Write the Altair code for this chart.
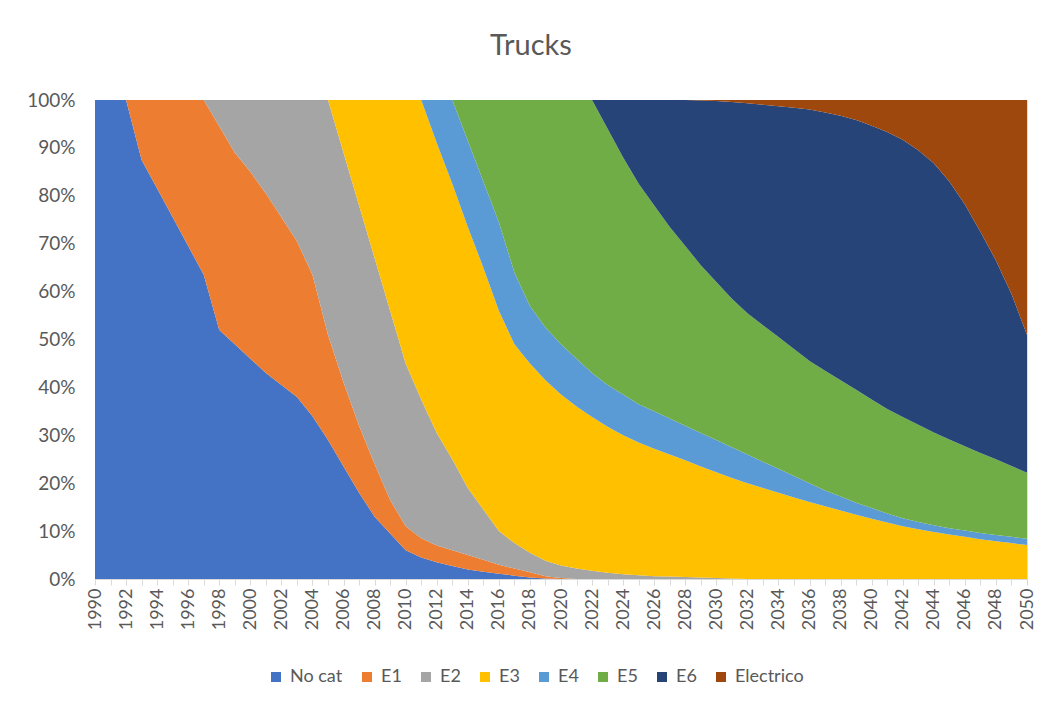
import altair as alt
import pandas as pd

years = list(range(1990, 2051))
categories = ["No cat", "E1", "E2", "E3", "E4", "E5", "E6", "Electrico"]
colors = ["#4472C4", "#ED7D31", "#A5A5A5", "#FFC000", "#5B9BD5", "#70AD47", "#264478", "#9E480E"]

# shares (%) per year, 1990..2050
no_cat = [100, 100, 100, 87.5, 81.5, 75.5, 69.5, 63.5, 52, 49,
          46, 43, 40.5, 38, 34, 29, 23.5, 18, 13, 9.5,
          6, 4.5, 3.5, 2.7, 2, 1.5, 1.1, 0.7, 0.3, 0.1,
          0, 0, 0, 0, 0, 0, 0, 0, 0, 0,
          0, 0, 0, 0, 0, 0, 0, 0, 0, 0,
          0, 0, 0, 0, 0, 0, 0, 0, 0, 0,
          0]
e1 = [0, 0, 0, 12.5, 18.5, 24.5, 30.5, 36.5, 42.5, 40,
      39, 37.5, 35, 32.5, 29.5, 22, 17.5, 14, 11, 7,
      5, 4, 3.5, 3.3, 3, 2.5, 1.9, 1.5, 1.1, 0.5,
      0.2, 0, 0, 0, 0, 0, 0, 0, 0, 0,
      0, 0, 0, 0, 0, 0, 0, 0, 0, 0,
      0, 0, 0, 0, 0, 0, 0, 0, 0, 0,
      0]
e2 = [0, 0, 0, 0, 0, 0, 0, 0, 5.5, 11,
      15, 19.5, 24.5, 29.5, 36.5, 49, 48, 46, 43, 39.5,
      34, 29, 23.5, 19, 14, 10.5, 7, 5.3, 4.1, 3.2,
      2.6, 2.2, 1.7, 1.3, 1.0, 0.8, 0.6, 0.5, 0.4, 0.3,
      0.2, 0.1, 0, 0, 0, 0, 0, 0, 0, 0,
      0, 0, 0, 0, 0, 0, 0, 0, 0, 0,
      0]
e3 = [0, 0, 0, 0, 0, 0, 0, 0, 0, 0,
      0, 0, 0, 0, 0, 0, 11, 22, 33, 44,
      55, 62.5, 60.5, 57.5, 54.5, 50.5, 46, 41.5, 39.5, 37.7,
      35.7, 33.8, 32.1, 30.5, 29, 27.7, 26.6, 25.5, 24.4, 23.2,
      22.1, 21, 20, 19, 18, 17, 16.1, 15.2, 14.3, 13.4,
      12.6, 11.8, 11, 10.4, 9.8, 9.3, 8.8, 8.3, 7.9, 7.5,
      7.1]
e4 = [0, 0, 0, 0, 0, 0, 0, 0, 0, 0,
      0, 0, 0, 0, 0, 0, 0, 0, 0, 0,
      0, 0, 9, 17.5, 18, 18, 18.5, 15, 12, 11,
      10.5, 10, 9.2, 8.7, 8.5, 8, 7.8, 7.5, 7.2, 7,
      6.7, 6.4, 6, 5.5, 5, 4.5, 3.9, 3.3, 2.9, 2.5,
      2.2, 1.9, 1.7, 1.5, 1.4, 1.3, 1.3, 1.3, 1.3, 1.3,
      1.3]
e5 = [0, 0, 0, 0, 0, 0, 0, 0, 0, 0,
      0, 0, 0, 0, 0, 0, 0, 0, 0, 0,
      0, 0, 0, 0, 8.5, 17, 25.5, 36, 43, 47.5,
      51, 54, 57, 53.5, 49.5, 46, 43, 40, 37.5, 35,
      33, 31, 29.5, 28.5, 27.5, 26.5, 25.5, 25, 24.3, 23.6,
      22.7, 21.8, 21.1, 20.3, 19.4, 18.5, 17.6, 16.7, 15.8, 14.8,
      13.8]
e6 = [0, 0, 0, 0, 0, 0, 0, 0, 0, 0,
      0, 0, 0, 0, 0, 0, 0, 0, 0, 0,
      0, 0, 0, 0, 0, 0, 0, 0, 0, 0,
      0, 0, 0, 6, 12, 17.5, 22, 26.5, 30.5, 34.4,
      37.8, 41.1, 43.8, 46, 48.2, 50.4, 52.5, 53.9, 55.2, 56.3,
      57.1, 57.8, 57.9, 57.3, 56.2, 53.9, 50.5, 46.2, 41.5, 35.9,
      28.8]
electrico = [0, 0, 0, 0, 0, 0, 0, 0, 0, 0,
             0, 0, 0, 0, 0, 0, 0, 0, 0, 0,
             0, 0, 0, 0, 0, 0, 0, 0, 0, 0,
             0, 0, 0, 0, 0, 0, 0, 0, 0, 0.1,
             0.2, 0.4, 0.7, 1, 1.3, 1.6, 2, 2.6, 3.3, 4.2,
             5.4, 6.7, 8.3, 10.5, 13.2, 17, 21.8, 27.5, 33.5, 40.5,
             49]

y_ticks = [0, 0.1, 0.2, 0.3, 0.4, 0.5, 0.6, 0.7, 0.8, 0.9, 1.0]

series = [no_cat, e1, e2, e3, e4, e5, e6, electrico]
rows = []
for idx, (cat, vals) in enumerate(zip(categories, series)):
    for yr, v in zip(years, vals):
        rows.append({"year": yr, "cat": cat, "idx": idx, "share": v})
df = pd.DataFrame(rows)

FONT = "Lato"
TXT = "#595959"

chart = alt.Chart(df).mark_area(interpolate="linear").encode(
    x=alt.X("year:Q",
            scale=alt.Scale(domain=[1990, 2050], nice=False, zero=False),
            axis=alt.Axis(values=years, format="d",
                          labelExpr="datum.value % 2 == 0 ? datum.label : ''",
                          labelAngle=270, labelAlign="right", labelBaseline="middle",
                          labelOverlap=False, labelFlush=False,
                          labelFont=FONT, labelFontSize=18, labelColor=TXT,
                          labelPadding=3,
                          tickColor="#D9D9D9", tickSize=6, domainColor="#D9D9D9",
                          grid=False),
            title=None),
    y=alt.Y("share:Q", stack="normalize",
            scale=alt.Scale(domain=[0, 1], nice=False),
            axis=alt.Axis(values=y_ticks, format=".0%", domain=False, ticks=False,
                          tickSize=0, labelPadding=20, grid=False,
                          labelFont=FONT, labelFontSize=19, labelColor=TXT),
            title=None),
    color=alt.Color("cat:N",
                    scale=alt.Scale(domain=categories, range=colors),
                    legend=alt.Legend(title=None, orient="none", direction="horizontal",
                                      legendX=172, legendY=568, columns=8,
                                      symbolType="square", symbolSize=100,
                                      symbolStrokeWidth=0, symbolOpacity=1,
                                      labelFont=FONT, labelFontSize=18, labelColor=TXT,
                                      labelOffset=5, columnPadding=15, padding=0)),
    order=alt.Order("idx:Q", sort="ascending"),
).properties(
    width=932,
    height=479,
    title=alt.TitleParams("Trucks", font=FONT, fontSize=29, fontWeight="normal",
                          color=TXT, anchor="middle", frame="group", dx=-30, offset=30),
    autosize=alt.AutoSizeParams(type="none"),
    padding={"left": 87, "top": 92, "right": 12, "bottom": 125},
).configure_view(stroke=None).configure(background="white")

chart.save("out.html", embed_options={"renderer": "svg", "actions": False})
